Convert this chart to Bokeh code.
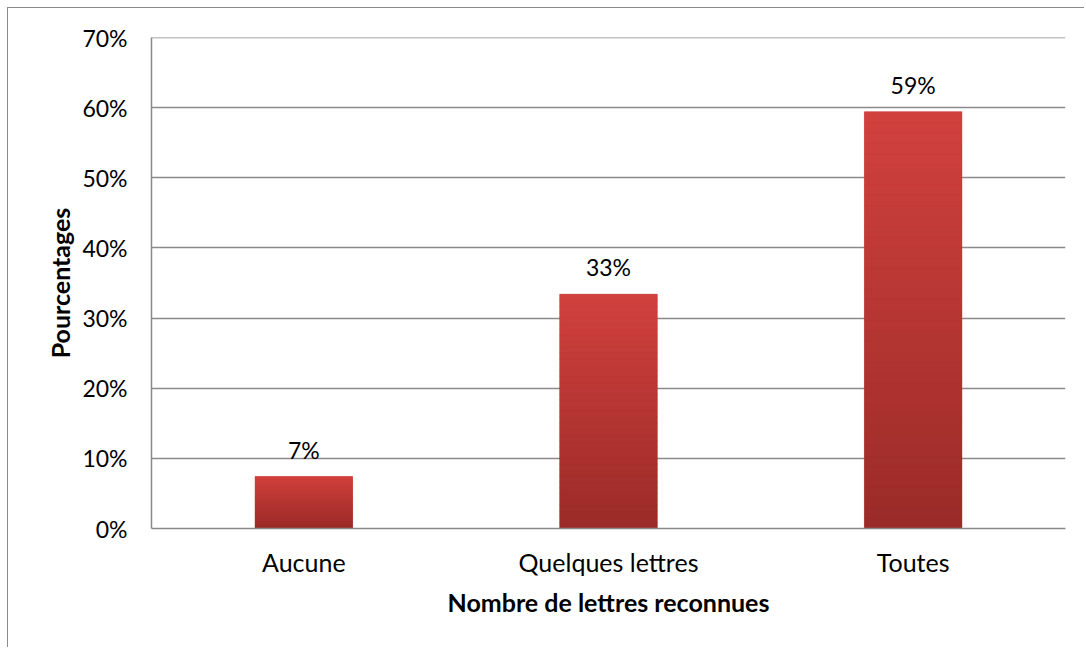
from bokeh.plotting import figure
from bokeh.models import ColumnDataSource, NumeralTickFormatter, FixedTicker, LabelSet, Span
from bokeh.core.properties import value
from bokeh.embed import file_html
from bokeh.resources import INLINE

categories = ["Aucune", "Quelques lettres", "Toutes"]
values = [0.074, 0.334, 0.594]
labels = ["7%", "33%", "59%"]
y_ticks = [0, 0.1, 0.2, 0.3, 0.4, 0.5, 0.6, 0.7]

FONT = "Lato"
p = figure(x_range=categories, y_range=(0, 0.7), width=1077, height=640,
           output_backend="svg", toolbar_location=None,
           min_border_left=143, min_border_right=20, min_border_top=29, min_border_bottom=120)
p.styles = {"margin-left": "7px", "margin-top": "7px",
            "border-left": "1px solid #8a8a8a", "border-top": "1px solid #8a8a8a"}
p.outline_line_color = None

# base bars
src = ColumnDataSource(dict(x=categories, top=values, label=labels))
p.vbar(x="x", top="top", width=0.32, source=src, fill_color="#b83533", line_color=None)

# vertical gradient overlay (light top -> dark bottom)
N = 40
top_c = (0xd1, 0x41, 0x3e)
bot_c = (0x9a, 0x2b, 0x28)
xs, bots, tops, cols = [], [], [], []
for c, v in zip(categories, values):
    for i in range(N):
        f0, f1 = i / N, (i + 1) / N
        t = (i + 0.5) / N
        col = tuple(int(round(bot_c[k] + (top_c[k] - bot_c[k]) * t)) for k in range(3))
        xs.append(c); bots.append(v * f0); tops.append(v * f1)
        cols.append("#%02x%02x%02x" % col)
p.vbar(x=xs, bottom=bots, top=tops, width=0.32, fill_color=cols, line_color=cols, line_width=0.5)

lbl = LabelSet(x="x", y="top", text="label", source=src, text_align="center",
               text_baseline="bottom", y_offset=13, text_font=value(FONT), text_font_size="23px",
               text_color="#000000")
p.add_layout(lbl)

p.add_layout(Span(location=y_ticks[-1], dimension="width", line_color="#8a8a8a", line_width=1.5))

p.xgrid.grid_line_color = None
p.ygrid.grid_line_color = "#8a8a8a"
p.ygrid.grid_line_width = 1.5
p.yaxis.ticker = FixedTicker(ticks=y_ticks)
p.yaxis.formatter = NumeralTickFormatter(format="0%")
for ax in (p.xaxis, p.yaxis):
    ax.major_tick_line_color = None
    ax.minor_tick_line_color = None
    ax.axis_line_color = "#8a8a8a"
    ax.axis_line_width = 1.5
    ax.major_label_text_font = FONT
    ax.major_label_text_color = "#000000"
    ax.axis_label_text_font = FONT
    ax.axis_label_text_font_size = "25px"
    ax.axis_label_text_font_style = "bold"
    ax.axis_label_text_color = "#000000"
p.yaxis.major_label_text_font_size = "23px"
p.xaxis.major_label_text_font_size = "25px"
p.yaxis.major_label_standoff = 18
p.xaxis.major_label_standoff = 12
p.xaxis.axis_label = "Nombre de lettres reconnues"
p.yaxis.axis_label = "Pourcentages"
p.xaxis.axis_label_standoff = 7
p.yaxis.axis_label_standoff = 4

open("out.html", "w").write(file_html(p, INLINE))
